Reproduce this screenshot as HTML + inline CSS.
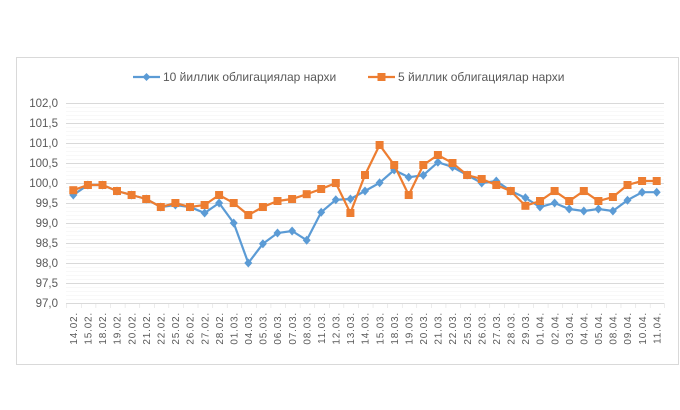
<!DOCTYPE html>
<html><head><meta charset="utf-8"><style>body{margin:0;background:#fff}svg{display:block}</style></head>
<body>
<svg width="680" height="410" xmlns="http://www.w3.org/2000/svg" font-family="Liberation Sans, sans-serif">
<defs>
<pattern id="mn" x="0" y="103.5" width="20" height="4" patternUnits="userSpaceOnUse"><line x1="0" x2="20" y1="0" y2="0" stroke="#f0f0f0" stroke-width="1"/></pattern>
<pattern id="tk" x="66.5" y="0" width="14.585" height="10" patternUnits="userSpaceOnUse"><line x1="0" x2="0" y1="0" y2="10" stroke="#d9d9d9" stroke-width="1"/></pattern>
<marker id="di" markerUnits="userSpaceOnUse" markerWidth="10" markerHeight="10" refX="5" refY="5"><path d="M5 0.5L9 5L5 9.5L1 5Z" fill="#5b9bd5"/></marker>
<marker id="sq" markerUnits="userSpaceOnUse" markerWidth="10" markerHeight="10" refX="5" refY="5"><rect x="1" y="1" width="8" height="8" fill="#ed7d31"/></marker>
</defs>
<rect x="16.5" y="57.5" width="662" height="307" fill="#fff" stroke="#d9d9d9"/>
<rect x="66" y="103" width="598" height="200" fill="url(#mn)"/>
<g stroke="#d9d9d9">
<line x1="66" x2="664" y1="103.5" y2="103.5"/><line x1="66" x2="664" y1="123.5" y2="123.5"/><line x1="66" x2="664" y1="143.5" y2="143.5"/><line x1="66" x2="664" y1="163.5" y2="163.5"/><line x1="66" x2="664" y1="183.5" y2="183.5"/><line x1="66" x2="664" y1="203.5" y2="203.5"/><line x1="66" x2="664" y1="223.5" y2="223.5"/><line x1="66" x2="664" y1="243.5" y2="243.5"/><line x1="66" x2="664" y1="263.5" y2="263.5"/><line x1="66" x2="664" y1="283.5" y2="283.5"/><line x1="66" x2="664" y1="303.5" y2="303.5"/>
</g>
<rect x="66" y="303" width="599" height="5" fill="url(#tk)"/>
<g font-size="11.5" fill="#595959" text-anchor="end">
<text x="58" y="107">102,0</text><text x="58" y="127">101,5</text><text x="58" y="147">101,0</text><text x="58" y="167">100,5</text><text x="58" y="187">100,0</text><text x="58" y="207">99,5</text><text x="58" y="227">99,0</text><text x="58" y="247">98,5</text><text x="58" y="267">98,0</text><text x="58" y="287">97,5</text><text x="58" y="307">97,0</text>
</g>
<g font-size="10" fill="#595959" letter-spacing="0.8" text-anchor="end">
<text transform="translate(77,312) rotate(-90)">14.02.</text>
<text transform="translate(91.6,312) rotate(-90)">15.02.</text>
<text transform="translate(106.2,312) rotate(-90)">18.02.</text>
<text transform="translate(120.7,312) rotate(-90)">19.02.</text>
<text transform="translate(135.3,312) rotate(-90)">20.02.</text>
<text transform="translate(149.9,312) rotate(-90)">21.02.</text>
<text transform="translate(164.5,312) rotate(-90)">22.02.</text>
<text transform="translate(179.1,312) rotate(-90)">25.02.</text>
<text transform="translate(193.7,312) rotate(-90)">26.02.</text>
<text transform="translate(208.3,312) rotate(-90)">27.02.</text>
<text transform="translate(222.8,312) rotate(-90)">28.02.</text>
<text transform="translate(237.4,312) rotate(-90)">01.03.</text>
<text transform="translate(252,312) rotate(-90)">04.03.</text>
<text transform="translate(266.6,312) rotate(-90)">05.03.</text>
<text transform="translate(281.2,312) rotate(-90)">06.03.</text>
<text transform="translate(295.8,312) rotate(-90)">07.03.</text>
<text transform="translate(310.4,312) rotate(-90)">08.03.</text>
<text transform="translate(324.9,312) rotate(-90)">11.03.</text>
<text transform="translate(339.5,312) rotate(-90)">12.03.</text>
<text transform="translate(354.1,312) rotate(-90)">13.03.</text>
<text transform="translate(368.7,312) rotate(-90)">14.03.</text>
<text transform="translate(383.3,312) rotate(-90)">15.03.</text>
<text transform="translate(397.9,312) rotate(-90)">18.03.</text>
<text transform="translate(412.4,312) rotate(-90)">19.03.</text>
<text transform="translate(427,312) rotate(-90)">20.03.</text>
<text transform="translate(441.6,312) rotate(-90)">21.03.</text>
<text transform="translate(456.2,312) rotate(-90)">22.03.</text>
<text transform="translate(470.8,312) rotate(-90)">25.03.</text>
<text transform="translate(485.4,312) rotate(-90)">26.03.</text>
<text transform="translate(500,312) rotate(-90)">27.03.</text>
<text transform="translate(514.5,312) rotate(-90)">28.03.</text>
<text transform="translate(529.1,312) rotate(-90)">29.03.</text>
<text transform="translate(543.7,312) rotate(-90)">01.04.</text>
<text transform="translate(558.3,312) rotate(-90)">02.04.</text>
<text transform="translate(572.9,312) rotate(-90)">03.04.</text>
<text transform="translate(587.5,312) rotate(-90)">04.04.</text>
<text transform="translate(602.1,312) rotate(-90)">05.04.</text>
<text transform="translate(616.6,312) rotate(-90)">08.04.</text>
<text transform="translate(631.2,312) rotate(-90)">09.04.</text>
<text transform="translate(645.8,312) rotate(-90)">10.04.</text>
<text transform="translate(660.4,312) rotate(-90)">11.04.</text>
</g>
<polyline fill="none" stroke="#5b9bd5" stroke-width="2.2" marker-start="url(#di)" marker-mid="url(#di)" marker-end="url(#di)" points="73.3,195 87.9,185 102.5,185 117,191 131.6,195 146.2,199 160.8,207 175.4,205 190,207 204.6,213 219.1,203 233.7,223 248.3,263 262.9,243.8 277.5,233 292.1,231 306.7,240.2 321.2,212.2 335.8,199.8 350.4,199 365,191 379.6,182.8 394.2,170 408.7,177.2 423.3,175.2 437.9,162.2 452.5,167 467.1,175 481.7,183 496.3,181 510.8,191 525.4,197.8 540,207 554.6,203 569.2,209 583.8,211 598.4,209 612.9,211 627.5,200.2 642.1,192.2 656.7,192.2"/>
<polyline fill="none" stroke="#ed7d31" stroke-width="2.2" marker-start="url(#sq)" marker-mid="url(#sq)" marker-end="url(#sq)" points="73.3,190.2 87.9,185 102.5,185 117,191 131.6,195 146.2,199 160.8,207 175.4,203 190,207 204.6,205 219.1,195 233.7,203 248.3,215 262.9,207 277.5,201 292.1,199 306.7,194.2 321.2,189 335.8,183 350.4,213 365,175 379.6,145 394.2,165 408.7,195 423.3,165 437.9,155 452.5,163 467.1,175 481.7,179 496.3,185 510.8,191 525.4,205.8 540,201 554.6,191 569.2,201 583.8,191 598.4,201 612.9,197 627.5,185 642.1,181 656.7,181"/>
<g font-size="12" fill="#595959">
<line x1="133" y1="77" x2="160" y2="77" stroke="#5b9bd5" stroke-width="2.2"/>
<path d="M146.5 73 L150.5 77 L146.5 81 L142.5 77Z" fill="#5b9bd5"/>
<text x="163" y="81">10 йиллик облигациялар нархи</text>
<line x1="368" y1="77" x2="395" y2="77" stroke="#ed7d31" stroke-width="2.2"/>
<rect x="377.5" y="73" width="8" height="8" fill="#ed7d31"/>
<text x="398" y="81">5 йиллик облигациялар нархи</text>
</g>
</svg>
</body></html>
